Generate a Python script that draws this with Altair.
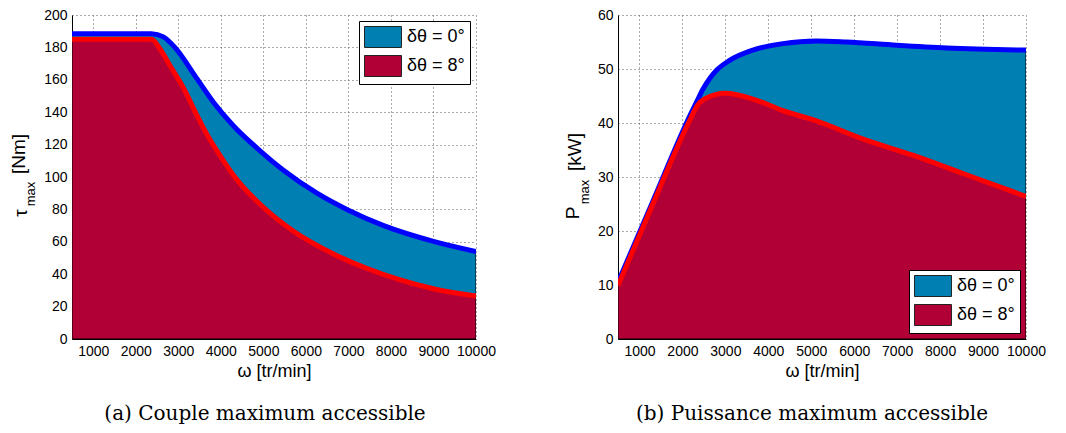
import altair as alt
import pandas as pd

SERIES = ["δθ = 0°", "δθ = 8°"]
FILL_COLORS = ["#0080B2", "#B10036"]
LINE_COLORS = ["#0000FF", "#FF0000"]

# (a) maximum torque [Nm] vs speed [tr/min]
w_tau_0 = [500, 1500, 2370, 2650, 2920, 3430, 3830, 4300, 4930, 5480, 6260, 7000, 7830, 9000, 10000]
tau_0 = [188.5, 188.5, 188.5, 186.5, 180, 161, 146, 131.5, 116, 104, 90, 79.5, 70, 60.3, 54]
w_tau_8 = [500, 1500, 2370, 2570, 2800, 3120, 3430, 3680, 4000, 4300, 4930, 5710, 6650, 7440, 8220, 9000, 10000]
tau_8 = [185, 185, 185, 179, 169, 155, 138.5, 126, 112.5, 101, 83, 66.5, 52.5, 43.5, 36.5, 31, 26.5]

# (b) maximum power [kW] vs speed [tr/min]
w_p_0 = [500, 1300, 2200, 2330, 2480, 2640, 2800, 3100, 3640, 4340, 5120, 5820, 6990, 8160, 10000]
p_0 = [10.5, 25.3, 41.8, 43.9, 46.3, 48.3, 49.8, 51.6, 53.5, 54.7, 55.2, 55.0, 54.4, 53.9, 53.5]
w_p_8 = [500, 1300, 2200, 2350, 2525, 3000, 3700, 4340, 5120, 6210, 7380, 8550, 10000]
p_8 = [9.9, 24.8, 41.0, 43.3, 44.5, 45.5, 44.3, 42.3, 40.4, 37.0, 34.0, 30.6, 26.4]

x_ticks = [1000, 2000, 3000, 4000, 5000, 6000, 7000, 8000, 9000, 10000]
tau_ticks = [0, 20, 40, 60, 80, 100, 120, 140, 160, 180, 200]
p_ticks = [0, 10, 20, 30, 40, 50, 60]

X_TITLE = "ω [tr/min]"
CAPTION_A = "(a) Couple maximum accessible"
CAPTION_B = "(b) Puissance maximum accessible"

FONT = "Liberation Sans"


def frame(w0, v0, w8, v8):
    return pd.DataFrame({
        "w": w0 + w8,
        "v": v0 + v8,
        "s": [SERIES[0]] * len(w0) + [SERIES[1]] * len(w8),
    })


def panel(df, yticks, ymax, legend_orient, title_parts, caption, cap_dx, width, height):
    x = alt.X("w:Q", scale=alt.Scale(domain=[500, 10000], nice=False, zero=False),
              axis=alt.Axis(values=x_ticks, title=X_TITLE, format="d"))
    y = alt.Y("v:Q", stack=None, scale=alt.Scale(domain=[0, ymax], nice=False),
              axis=alt.Axis(values=yticks, title=None, format="d"))
    area = alt.Chart(df).mark_area(
        interpolate="monotone", opacity=1, stroke="black", strokeWidth=1, clip=True
    ).encode(
        x=x, y=y,
        color=alt.Color("s:N", scale=alt.Scale(domain=SERIES, range=FILL_COLORS),
                        legend=alt.Legend(
                            title=None, orient=legend_orient, offset=6,
                            fillColor="white", strokeColor="black", padding=5,
                            labelFont=FONT, labelFontSize=18, labelColor="black",
                            labelOffset=13, labelLimit=300,
                            symbolType="M-1.76,-1H1.76V1H-1.76Z", symbolSize=441,
                            symbolOffset=8,
                            symbolStrokeColor="#222", symbolStrokeWidth=1,
                            symbolOpacity=1, rowPadding=3)),
    )
    line = alt.Chart(df).mark_line(
        interpolate="monotone", strokeWidth=5, strokeCap="butt", clip=True
    ).encode(
        x=x, y=y,
        stroke=alt.Stroke("s:N", scale=alt.Scale(domain=SERIES, range=LINE_COLORS), legend=None),
    )
    layers = [area, line]
    for txt, size, px, py in title_parts:
        layers.append(
            alt.Chart(pd.DataFrame({"t": [txt]})).mark_text(
                angle=270, font=FONT, fontSize=size, color="black",
                align="center", baseline="middle"
            ).encode(x=alt.value(px), y=alt.value(py), text="t:N")
        )
    return alt.layer(*layers).properties(
        width=width, height=height,
        title=alt.TitleParams(caption, orient="bottom", anchor="middle", frame="group",
                              font="DejaVu Serif", fontSize=20, fontWeight="normal",
                              color="black", offset=24, dx=cap_dx),
    ).resolve_scale(color="independent", stroke="independent")


left = panel(frame(w_tau_0, tau_0, w_tau_8, tau_8), tau_ticks, 200, "top-right",
             [("τ", 19, -51, 198), ("max", 13, -41, 179), ("[Nm]", 19, -53, 139)],
             CAPTION_A, -9, 404, 324)
right = panel(frame(w_p_0, p_0, w_p_8, p_8), p_ticks, 60, "bottom-right",
              [("P", 19, -45, 198), ("max", 13, -33, 177), ("[kW]", 19, -43, 137)],
              CAPTION_B, -10, 408, 324)

chart = alt.hconcat(left, right, spacing=68).resolve_scale(
    color="independent", stroke="independent", x="independent", y="independent"
).resolve_legend(color="independent").properties(
    padding={"left": 2, "top": 0, "right": 0, "bottom": 0}
).configure_view(stroke=None).configure_axis(
    domainColor="black", domainWidth=1, grid=True, gridColor="#555",
    gridDash=[1, 3], gridWidth=1, ticks=False, tickSize=0,
    labelFont=FONT, labelFontSize=14, labelColor="black",
    titleFont=FONT, titleFontSize=18, titleFontWeight="normal", titleColor="black",
).configure_axisX(labelPadding=5, titlePadding=4, labelFlush=False).configure_axisY(
    labelPadding=5
)

chart.save("out.html", embed_options={"renderer": "svg", "actions": False})
